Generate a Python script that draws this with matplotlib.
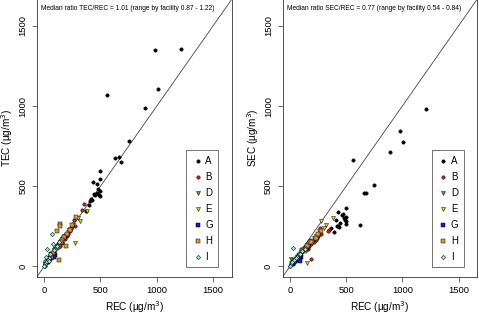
import matplotlib
matplotlib.use("Agg")
import matplotlib.pyplot as plt

plt.rcParams['font.family'] = ['Liberation Sans', 'DejaVu Sans']

# facility data: REC, TEC, SEC (ug/m3)
facilities = ["A", "B", "D", "E", "G", "H", "I"]

rec_A = [1213, 982, 1009, 891, 752, 663, 627, 681, 562, 500, 500, 432, 467, 479, 500, 450, 490, 500, 426, 410, 396, 367, 440, 470, 415]
tec_A = [1356, 1348, 1106, 986, 784, 681, 673, 650, 1071, 594, 542, 527, 513, 484, 469, 448, 448, 440, 417, 411, 386, 348, 450, 455, 420]
sec_A = [984, 842, 773, 711, 509, 459, 261, 455, 665, 365, 265, 340, 323, 302, 281, 273, 292, 310, 250, 292, 215, 240, 248, 330, 255]

rec_B = [352, 337, 269, 278, 250, 240, 230, 215, 200, 185, 170, 186, 157, 160, 140]
tec_B = [392, 350, 292, 250, 265, 240, 220, 205, 190, 185, 175, 170, 150, 145, 130]
sec_B = [230, 223, 240, 200, 192, 175, 165, 150, 160, 140, 130, 48, 109, 120, 110]

rec_D = [250, 220, 200, 180, 160, 140, 120, 110, 100, 90, 130, 60, 40, 10]
tec_D = [240, 225, 205, 190, 170, 150, 135, 120, 110, 100, 140, 70, 50, 15]
sec_D = [190, 175, 160, 150, 130, 115, 100, 90, 80, 70, 105, 60, 30, 48]

rec_E = [382, 322, 275, 300, 260, 230, 210, 190, 170, 150, 130, 120, 156, 100]
tec_E = [344, 286, 146, 300, 260, 235, 215, 195, 175, 160, 140, 125, 160, 110]
sec_E = [302, 260, 281, 240, 220, 190, 175, 160, 145, 130, 115, 105, 21, 85]

rec_G = [100, 90, 80, 70, 60, 50, 45, 40, 35, 30, 25, 20, 60, 91]
tec_G = [70, 75, 65, 60, 55, 50, 45, 40, 35, 30, 25, 20, 80, 60]
sec_G = [60, 55, 50, 45, 40, 38, 35, 30, 25, 22, 18, 15, 45, 36]

rec_H = [141, 139, 112, 133, 280, 200, 180, 160, 150, 130, 120, 110, 100, 80, 60, 40, 20, 230, 250, 190]
tec_H = [267, 254, 219, 42, 310, 200, 185, 165, 150, 130, 120, 115, 105, 85, 60, 45, 25, 230, 260, 130]
sec_H = [115, 110, 100, 95, 220, 160, 150, 135, 125, 110, 100, 95, 85, 70, 55, 35, 20, 180, 200, 150]

rec_I = [71, 27, 80, 110, 130, 60, 45, 30, 20, 10, 5, 0, 50, 40, 90, 15]
tec_I = [202, 111, 140, 130, 150, 80, 55, 40, 25, 15, 5, 0, 75, 35, 100, 60]
sec_I = [70, 115, 75, 95, 110, 60, 45, 35, 25, 15, 5, 0, 55, 40, 80, 30]

rec = [rec_A, rec_B, rec_D, rec_E, rec_G, rec_H, rec_I]
tec = [tec_A, tec_B, tec_D, tec_E, tec_G, tec_H, tec_I]
sec = [sec_A, sec_B, sec_D, sec_E, sec_G, sec_H, sec_I]

colors = ["black", "#cc2222", "#55aa22", "#d8d820", "#1a1acc", "#d89a40", "#8ee8ee"]
markers = ["o", "o", "v", "v", "s", "s", "D"]
sizes = [6, 6, 8, 8, 6, 6, 5]

notes = ["Median ratio TEC/REC = 1.01 (range by facility 0.87 - 1.22)",
         "Median ratio SEC/REC = 0.77 (range by facility 0.54 - 0.84)"]
ylabels = ["TEC (\u00b5g/m$^3$)", "SEC (\u00b5g/m$^3$)"]

fig = plt.figure(figsize=(4.79, 3.17), dpi=100)
ax1 = fig.add_axes([0.0772, 0.1271, 0.4063, 0.8745])
ax2 = fig.add_axes([0.5902, 0.1271, 0.4056, 0.8745])

for ax, yvals, note, ylab in zip([ax1, ax2], [tec, sec], notes, ylabels):
    for f, x, y, c, m, s in zip(facilities, rec, yvals, colors, markers, sizes):
        ax.scatter(x, y, s=s, c=c, marker=m, edgecolors="black",
                   linewidths=0.35, label=f, zorder=3)
    ax.axline((0, 0), slope=1, color="#444444", lw=0.6, zorder=2)
    ax.set_xlim(-64, 1664)
    ax.set_ylim(-64, 1664)
    ax.set_xticks([0, 500, 1000, 1500])
    ax.set_yticks([0, 500, 1000, 1500])
    ax.tick_params(labelsize=6.8, length=3.5, width=0.5, pad=3.5, color="#333333")
    for t in ax.get_yticklabels():
        t.set_rotation(90)
        t.set_va("center")
    for sp in ax.spines.values():
        sp.set_linewidth(0.6)
        sp.set_color("#333333")
    ax.set_xlabel("REC (\u00b5g/m$^3$)", fontsize=7.2, labelpad=3)
    ax.set_ylabel(ylab, fontsize=7.2, labelpad=2)
    ax.text(0.02, 0.968, note, transform=ax.transAxes, fontsize=4.8,
            ha="left", va="center")
    leg = ax.legend(loc="lower right", bbox_to_anchor=(0.932, 0.034),
                    borderaxespad=0, fontsize=7, frameon=True, fancybox=False,
                    labelspacing=0.62, handletextpad=0.2, handlelength=1.2,
                    borderpad=0.55, markerscale=1.0)
    leg.get_frame().set_edgecolor("#333333")
    leg.get_frame().set_linewidth(0.6)

fig.savefig("out.png", dpi=100)
